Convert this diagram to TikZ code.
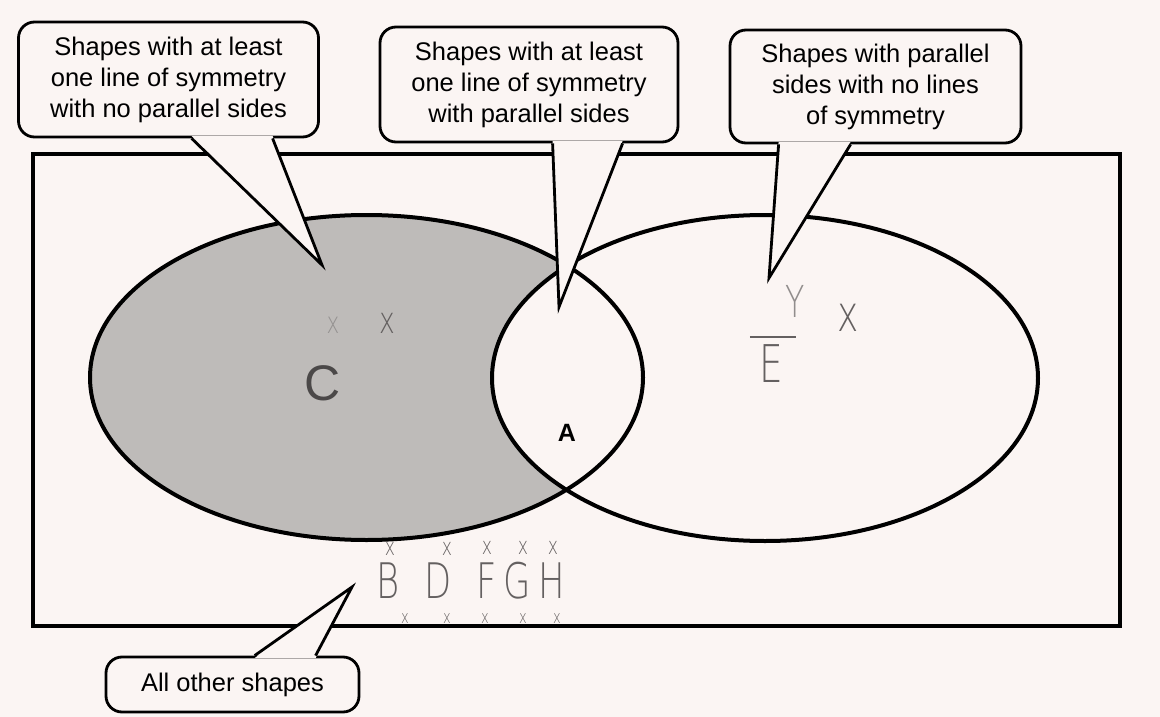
\documentclass[tikz,border=0pt]{standalone}
\usepackage{fontspec}
\setmainfont{Liberation Sans}
\newfontfamily\handfont[FakeStretch=0.72]{DejaVu Sans ExtraLight}
\usepackage{tikz}
\usetikzlibrary{calc}
\definecolor{paper}{RGB}{251,245,243}
\definecolor{hatchgray}{RGB}{190,187,185}
\definecolor{pencil}{RGB}{100,96,96}
\definecolor{darkpencil}{RGB}{75,72,72}
\tikzset{
    bubble/.style={
        rectangle,
        draw=black,
        line width=2.8pt,
        rounded corners=16pt,
        fill=paper,
        align=center,
        inner sep=0pt,
        font=\fontsize{25.5}{31}\selectfont
    },
    tailline/.style={
        draw=black,
        line width=2.8pt,
        line join=miter
    },
    setline/.style={
        line width=4pt
    },
    hand/.style={
        text=pencil,
        inner sep=0pt,
        font=\handfont\fontsize{49}{49}\selectfont
    },
    xmark/.style={
        text=pencil,
        inner sep=0pt,
        font=\handfont\fontsize{24}{24}\selectfont
    }
}

\begin{document}
\begin{tikzpicture}[x=1pt, y=-1pt]
% page
\fill[paper] (0,0) rectangle (1160,717);
\useasboundingbox (0,0) rectangle (1160,717);

% shaded part: left set without the overlap
\fill[hatchgray] (366.5,377.5) ellipse [x radius=276.5, y radius=162.5];
\begin{scope}
\clip (366.5,377.5) ellipse [x radius=276.5, y radius=162.5];
\fill[paper] (765,378) ellipse [x radius=273, y radius=163];
\end{scope}

% universal set
\draw[line width=3.2pt] (33,154) rectangle (1120,626);

% the two sets
\draw[setline] (366.5,377.5) ellipse [x radius=276.5, y radius=162.5];
\draw[setline] (765,378) ellipse [x radius=273, y radius=163];

\node[font=\bfseries\fontsize{25}{25}\selectfont] (label-a) at (567,433) {A};

% pencil marks
\node[hand, text=darkpencil, font=\fontsize{50}{50}\selectfont] (mark-c) at (323,383) {C};
\node[xmark, font=\handfont\fontsize{37}{37}\selectfont] (mark-x1) at (387,323) {x};
\node[xmark, text=pencil!45!hatchgray, font=\handfont\fontsize{30}{30}\selectfont] (mark-x2) at (333,325) {x};
\node[hand, font=\handfont\fontsize{52}{52}\selectfont] (mark-e) at (771,364) {E};
\draw[pencil, line width=1.8pt] ($(mark-e.north west)+(-9,-8)$) -- ($(mark-e.north east)+(13,-8)$);
\node[hand, font=\handfont\fontsize{44}{44}\selectfont, text=pencil!70!paper] (mark-y) at (795,301) {Y};
\node[xmark, font=\handfont\fontsize{50}{50}\selectfont] (mark-x3) at (848,318) {x};

\node[hand] (mark-b) at (388,581) {B};
\node[hand] (mark-d) at (438,581) {D};
\node[hand] (mark-f) at (487,581) {F};
\node[hand] (mark-g) at (517,581) {G};
\node[hand] (mark-h) at (552,581) {H};
\node[xmark] (up-b) at (390,549) {x};
\node[xmark] (up-d) at (447,549) {x};
\node[xmark] (up-f) at (487,548) {x};
\node[xmark] (up-g) at (523,548) {x};
\node[xmark] (up-h) at (553,548) {x};
\node[xmark, font=\handfont\fontsize{18}{18}\selectfont] (low-b) at (405,619) {x};
\node[xmark, font=\handfont\fontsize{18}{18}\selectfont] (low-d) at (447,619) {x};
\node[xmark, font=\handfont\fontsize{18}{18}\selectfont] (low-f) at (485,619) {x};
\node[xmark, font=\handfont\fontsize{18}{18}\selectfont] (low-g) at (523,619) {x};
\node[xmark, font=\handfont\fontsize{18}{18}\selectfont] (low-h) at (557,619) {x};

% callouts
\node[bubble, minimum width=300pt, minimum height=115pt] (sym-only) at (168.5,79.5) {Shapes with at least\\one line of symmetry\\with no parallel sides};
\coordinate (sym-only-tip) at (322,265);
\fill[paper] ($(sym-only.south west)+(174.5,-2.5)$) -- (sym-only-tip) -- ($(sym-only.south west)+(255.5,-2.5)$) -- cycle;
\draw[tailline] ($(sym-only.south west)+(174.5,0)$) -- (sym-only-tip) -- ($(sym-only.south west)+(255.5,0)$);

\node[bubble, minimum width=298pt, minimum height=115pt] (sym-par) at (529,84.5) {Shapes with at least\\one line of symmetry\\with parallel sides};
\coordinate (sym-par-tip) at (559,307);
\fill[paper] ($(sym-par.south west)+(174,-2.5)$) -- (sym-par-tip) -- ($(sym-par.south west)+(244,-2.5)$) -- cycle;
\draw[tailline] ($(sym-par.south west)+(174,0)$) -- (sym-par-tip) -- ($(sym-par.south west)+(244,0)$);

\node[bubble, minimum width=291pt, minimum height=113pt] (par-only) at (875.5,86.5) {Shapes with parallel\\sides with no lines\\of symmetry};
\coordinate (par-only-tip) at (769,278);
\fill[paper] ($(par-only.south west)+(50,-2.5)$) -- (par-only-tip) -- ($(par-only.south west)+(122,-2.5)$) -- cycle;
\draw[tailline] ($(par-only.south west)+(50,0)$) -- (par-only-tip) -- ($(par-only.south west)+(122,0)$);

\node[bubble, minimum width=253pt, minimum height=55pt] (all-other) at (232.5,684.5) {All other shapes};
\coordinate (all-other-tip) at (352,587);
\fill[paper] ($(all-other.north west)+(150,2.5)$) -- (all-other-tip) -- ($(all-other.north west)+(211,2.5)$) -- cycle;
\draw[tailline] ($(all-other.north west)+(150,0)$) -- (all-other-tip) -- ($(all-other.north west)+(211,0)$);
\end{tikzpicture}
\end{document}
